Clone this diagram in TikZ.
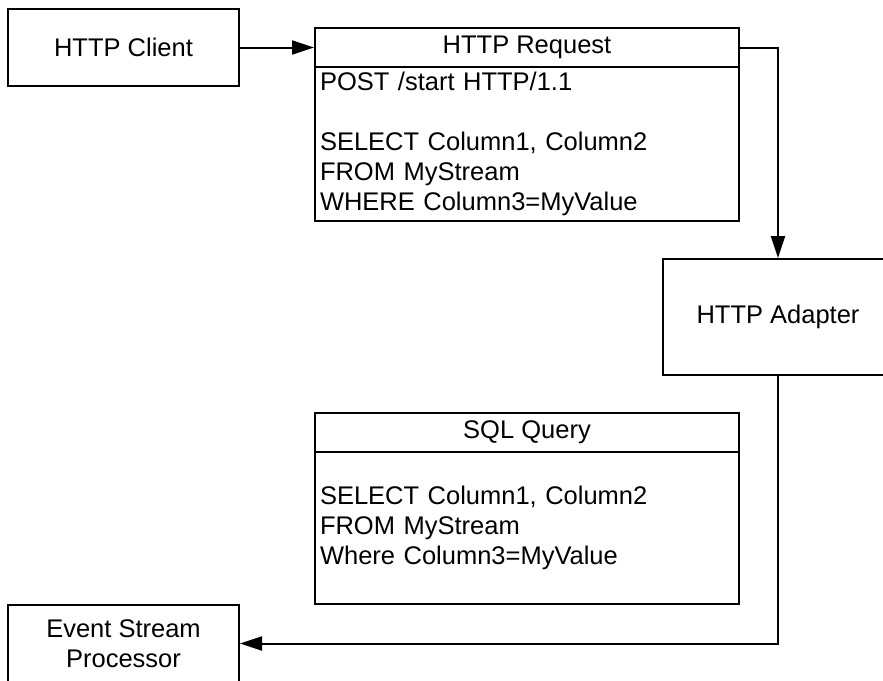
\documentclass[tikz,border=0pt]{standalone}
\usepackage{fontspec}
\setmainfont{Liberation Sans}
\usetikzlibrary{arrows.meta}
\begin{document}
\begin{tikzpicture}[x=1pt,y=-1pt,
        font=\fontsize{25.5}{30}\selectfont,
        box/.style={draw, line width=2pt, minimum width=231pt, minimum height=77pt, inner sep=0pt, align=center},
        head/.style={draw, line width=2pt, minimum width=424pt, minimum height=39pt, inner sep=0pt},
        body/.style={draw, line width=2pt, text width=414pt, inner xsep=5pt, inner ysep=0pt, align=left},
        arr/.style={-{Triangle[length=22pt,width=14pt]}, line width=2pt}]
            \clip (0,0) rectangle (883,680);
            % boxes
            \node [box] (client) at (123.5,47.5) {HTTP Client};
            \node [head] (reqhead) at (527,47.5) {HTTP Request};
            \node [body, minimum height=154pt] (reqbody) at (527,144) {POST /start HTTP/1.1\\~\\SELECT Column1, Column2\\FROM MyStream\\WHERE Column3=MyValue};
            \node [box, minimum height=116pt] (adapter) at (778,317) {HTTP Adapter};
            \node [head] (sqlhead) at (527,432.5) {SQL Query};
            \node [body, minimum height=152pt] (sqlbody) at (527,528) {SELECT Column1, Column2\\FROM MyStream\\Where Column3=MyValue};
            \node [box] (esp) at (123.5,643.5) {Event Stream\\Processor};
            % connectors
            \draw [arr] (client) -- (reqhead);
            \draw [arr] (reqhead.east) -| (adapter.north);
            \draw [arr] (adapter.south) |- (esp.east);
        \end{tikzpicture}
\end{document}
